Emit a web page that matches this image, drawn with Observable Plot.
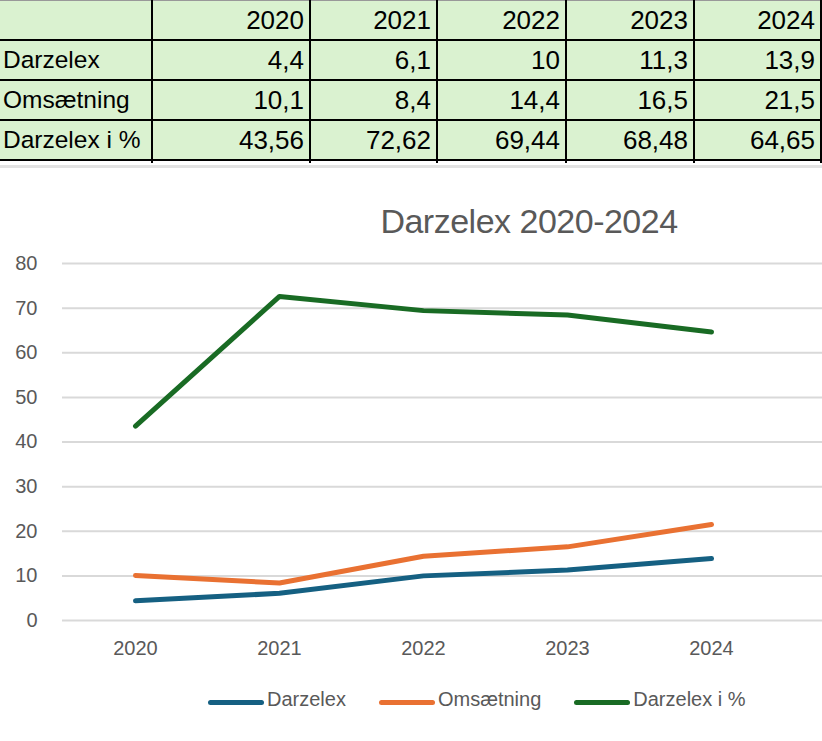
<!DOCTYPE html>
<html>
<head>
<meta charset="utf-8">
<script src="https://cdn.jsdelivr.net/npm/d3@7"></script>
<script src="https://cdn.jsdelivr.net/npm/@observablehq/plot@0.6"></script>
<style>
  html, body { margin: 0; padding: 0; background: #fff; }
  body { width: 822px; height: 741px; position: relative; overflow: hidden; font-family: "Liberation Sans", Arial, sans-serif; }
  #tbl { position: absolute; left: -1px; top: 0; width: 822px; border-collapse: collapse; table-layout: fixed; }
  #tbl td { border: 2px solid #000; background: #DAF2D0; font-size: 26px; color: #000; padding: 0 5px 0 4px; height: 38px; line-height: 26px; text-align: right; white-space: nowrap; overflow: hidden; }
  #tbl td.lab { text-align: left; border-left: none; font-size: 24.5px; }
  #tbl tr.head td { border-top: 1px solid #999; }
  #tbl tr.tail td { background: #fff; height: 2px; padding: 0; border-bottom: none; }
  #band { position: absolute; left: 0; top: 165px; width: 822px; height: 3px; background: #e2e2e2; }
  #title { position: absolute; left: 529px; top: 204px; transform: translateX(-50%); font-size: 34px; line-height: 34px; letter-spacing: -0.5px; color: #595959; white-space: nowrap; }
  #chart { position: absolute; left: 0; top: 180px; }
  #legend { position: absolute; left: 208px; top: 688px; display: flex; align-items: center; gap: 33px; font-size: 20px; color: #595959; }
  .item { display: flex; align-items: center; gap: 3px; }
  .swatch { width: 56px; height: 5px; border-radius: 3px; margin-top: 5px; }
</style>
</head>
<body>
<table id="tbl"></table>
<div id="band"></div>
<div id="title">Darzelex 2020-2024</div>
<div id="chart"></div>
<div id="legend"></div>
<script>
// ---- data ----
const years = ["2020", "2021", "2022", "2023", "2024"];
const seriesNames = ["Darzelex", "Omsætning", "Darzelex i %"];
const darzelex = [4.4, 6.1, 10, 11.3, 13.9];
const omsaetning = [10.1, 8.4, 14.4, 16.5, 21.5];
const darzelexPct = [43.56, 72.62, 69.44, 68.48, 64.65];
const yTicks = [0, 10, 20, 30, 40, 50, 60, 70, 80];
const chartTitle = "Darzelex 2020-2024";

const seriesValues = [darzelex, omsaetning, darzelexPct];
const colors = ["#156082", "#E97132", "#196B24"];

// ---- table ----
const colWidths = [153, 158, 127, 129, 128, 127];
const tbl = document.getElementById("tbl");
const cg = document.createElement("colgroup");
colWidths.forEach(w => { const c = document.createElement("col"); c.style.width = w + "px"; cg.appendChild(c); });
tbl.appendChild(cg);
const fmt = v => String(v).replace(".", ",");
function addRow(cells, cls) {
  const tr = document.createElement("tr");
  if (cls) tr.className = cls;
  cells.forEach((t, i) => {
    const td = document.createElement("td");
    td.textContent = t;
    if (i === 0) td.className = "lab";
    tr.appendChild(td);
  });
  tbl.appendChild(tr);
}
addRow(["", ...years], "head");
seriesNames.forEach((n, i) => addRow([n, ...seriesValues[i].map(fmt)]));
addRow(["", "", "", "", "", ""], "tail");

document.getElementById("title").textContent = chartTitle;

// ---- chart ----
const rows = [];
seriesNames.forEach((name, si) => {
  years.forEach((yr, i) => rows.push({series: name, year: yr, value: seriesValues[si][i]}));
});

const chart = Plot.plot({
  width: 822,
  height: 490,
  marginTop: 83,
  marginBottom: 50,
  marginLeft: 62,
  marginRight: 0,
  style: {fontFamily: "Liberation Sans, Arial, sans-serif", fontSize: "20px", color: "#595959", background: "transparent"},
  x: {type: "point", domain: years, range: [134, 711], padding: 0},
  y: {domain: [0, 80]},
  color: {domain: seriesNames, range: colors},
  marks: [
    Plot.gridY(yTicks, {stroke: "#d9d9d9", strokeOpacity: 1, strokeWidth: 2}),
    Plot.axisY(yTicks, {tickSize: 0, tickPadding: 25, label: null}),
    Plot.axisX({tickSize: 0, tickPadding: 20, label: null}),
    Plot.line(rows, {x: "year", y: "value", z: "series", stroke: "series", strokeWidth: 5, strokeLinecap: "round", strokeLinejoin: "round"})
  ]
});
document.getElementById("chart").appendChild(chart);

// ---- legend ----
const legend = document.getElementById("legend");
seriesNames.forEach((n, i) => {
  const it = document.createElement("div");
  it.className = "item";
  const sw = document.createElement("div");
  sw.className = "swatch";
  sw.style.background = colors[i];
  const tx = document.createElement("span");
  tx.textContent = n;
  it.appendChild(sw); it.appendChild(tx);
  legend.appendChild(it);
});
</script>
</body>
</html>
